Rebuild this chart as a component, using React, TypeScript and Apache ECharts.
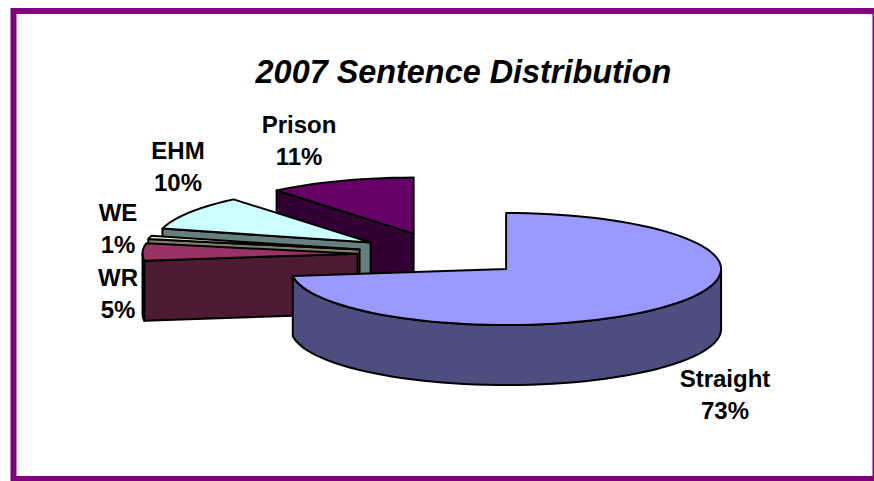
import React, { useEffect, useRef } from "react";
import * as echarts from "echarts";

const categories = ["Straight", "WR", "WE", "EHM", "Prison"];
const values = [73, 5, 1, 10, 11];
const topColors = ["#9999FF", "#993366", "#FFFFCC", "#CCFFFF", "#660066"];
const sideColors = ["#4D4D80", "#4D1A33", "#808066", "#668080", "#330033"];
const labelCentres: [number, number][] = [
  [725, 394],
  [118, 293],
  [118, 228],
  [178, 166],
  [299, 140],
];

const CX = 442.4;
const CY = 254.4;
const RX = 215;
const RY = 56;
const DEPTH = 60;
const EXPLODE = 0.395;
const FONT = '"Liberation Sans", Arial, sans-serif';

const total = values.reduce((a, b) => a + b, 0);
const starts = values.map((_, i) => (values.slice(0, i).reduce((a, b) => a + b, 0) / total) * 360);
const rad = (d: number) => (d * Math.PI) / 180;

function renderSlice(params: any, api: any) {
  const i = api.value(0) as number;
  const value = api.value(1) as number;
  const sa = starts[i];
  const ea = sa + (value / total) * 360;
  const mid = rad((sa + ea) / 2);
  const ax = CX + EXPLODE * RX * Math.sin(mid);
  const ay = CY - EXPLODE * RY * Math.cos(mid);
  const rim = (deg: number, dy = 0): number[] => [
    ax + RX * Math.sin(rad(deg)),
    ay - RY * Math.cos(rad(deg)) + dy,
  ];
  const arc = (a: number, b: number, dy = 0) => {
    const n = Math.max(2, Math.ceil(Math.abs(b - a) / 3));
    return Array.from({ length: n + 1 }, (_, k) => rim(a + ((b - a) * k) / n, dy));
  };
  const lineStyle = { stroke: "#000", lineWidth: 2, lineJoin: "round" };
  const children: any[] = [];
  const radialWall = (deg: number) => ({
    type: "polygon",
    shape: { points: [rim(deg), [ax, ay], [ax, ay + DEPTH], rim(deg, DEPTH)] },
    style: { fill: sideColors[i], ...lineStyle },
  });
  if (Math.sin(rad(sa)) < -1e-6) children.push(radialWall(sa));
  if (Math.sin(rad(ea)) > 1e-6) children.push(radialWall(ea));
  const a0 = Math.max(sa, 90);
  const a1 = Math.min(ea, 270);
  if (a1 > a0) {
    children.push({
      type: "polygon",
      shape: { points: [...arc(a0, a1), ...arc(a1, a0, DEPTH)] },
      style: { fill: sideColors[i], ...lineStyle },
    });
  }
  children.push({
    type: "polygon",
    shape: { points: [[ax, ay], ...arc(sa, ea)] },
    style: { fill: topColors[i], ...lineStyle },
  });
  return { type: "group", children };
}

function renderLabel(params: any, api: any) {
  const i = api.value(0) as number;
  const value = api.value(1) as number;
  const [x, y] = labelCentres[i];
  return {
    type: "text",
    x,
    y,
    style: {
      text: `${categories[i]}\n${Math.round((value / total) * 100)}%`,
      fill: "#000",
      font: `bold 24px ${FONT}`,
      lineHeight: 32,
      textAlign: "center",
      textVerticalAlign: "middle",
    },
  };
}

export default function App() {
  const ref = useRef<HTMLDivElement>(null);
  useEffect(() => {
    const chart = echarts.init(ref.current!, null, { renderer: "svg" });
    const order = values.map((_, i) => i).reverse();
    const data = order.map((i) => [i, values[i]]);
    chart.setOption({
      animation: false,
      backgroundColor: "#fff",
      title: {
        text: "2007 Sentence Distribution",
        left: 458.5,
        top: 51,
        textAlign: "center",
        textStyle: {
          fontFamily: FONT,
          fontSize: 32.4,
          fontWeight: "bold",
          fontStyle: "italic",
          color: "#000",
        },
      },
      graphic: [
        {
          type: "rect",
          silent: true,
          shape: { x: 13.5, y: 11, width: 862, height: 468 },
          style: { fill: "none", stroke: "#800080", lineWidth: 6 },
        },
      ],
      series: [
        {
          type: "custom",
          coordinateSystem: "none",
          renderItem: renderSlice,
          data,
          silent: true,
        },
        {
          type: "custom",
          coordinateSystem: "none",
          renderItem: renderLabel,
          data,
          silent: true,
        },
      ],
    });
    return () => chart.dispose();
  }, []);
  return (
    <div
      ref={ref}
      style={{ position: "fixed", left: 0, top: 0, width: 874, height: 481 }}
    />
  );
}
